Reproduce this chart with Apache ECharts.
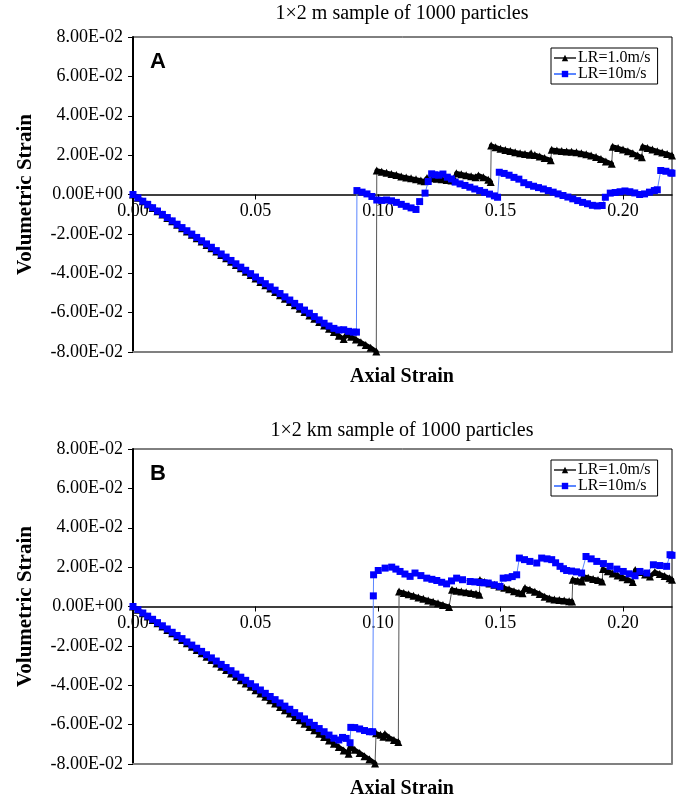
<!DOCTYPE html>
<html><head><meta charset="utf-8">
<script src="https://cdn.jsdelivr.net/npm/echarts@6/dist/echarts.min.js"></script>
<style>html,body{margin:0;padding:0;background:#fff}#c{width:681px;height:798px}</style>
</head><body><div id="c"></div><script>
// ---------- data (axial strain, volumetric strain) ----------
const seriesNames = ['LR=1.0m/s', 'LR=10m/s'];
const titles = ['1\u00d72 m sample of 1000 particles', '1\u00d72 km sample of 1000 particles'];
const panelLetters = ['A', 'B'];
const xTicks = [0, 0.05, 0.10, 0.15, 0.20];
const yTicks = [-0.08, -0.06, -0.04, -0.02, 0, 0.02, 0.04, 0.06, 0.08];

// Panel A, LR = 1.0 m/s
const aSlow = [[0,0],[0.002,-0.0017],[0.004,-0.0034],[0.006,-0.0051],[0.008,-0.0068],[0.010,-0.0085],[0.012,-0.0102],[0.014,-0.0119],[0.016,-0.0136],[0.018,-0.0154],[0.020,-0.0171],[0.022,-0.0188],[0.024,-0.0205],[0.026,-0.0222],[0.028,-0.0239],[0.030,-0.0256],[0.032,-0.0273],[0.034,-0.0290],[0.036,-0.0307],[0.038,-0.0324],[0.040,-0.0341],[0.042,-0.0358],[0.044,-0.0375],[0.046,-0.0392],[0.048,-0.0409],[0.050,-0.0427],[0.052,-0.0444],[0.054,-0.0461],[0.056,-0.0478],[0.058,-0.0495],[0.060,-0.0512],[0.062,-0.0529],[0.064,-0.0546],[0.066,-0.0563],[0.068,-0.0580],[0.070,-0.0597],[0.072,-0.0614],[0.074,-0.0631],[0.076,-0.0648],[0.078,-0.0665],[0.080,-0.0682],[0.082,-0.0699],[0.084,-0.0717],[0.086,-0.0734],[0.0872,-0.0710],[0.089,-0.0722],[0.091,-0.0736],[0.093,-0.0750],[0.095,-0.0764],[0.097,-0.0778],[0.0993,-0.0798],[0.0995,0.0122],[0.1015,0.0116],[0.1035,0.0110],[0.1055,0.0104],[0.1075,0.0099],[0.1095,0.0092],[0.1115,0.0086],[0.1135,0.0082],[0.1155,0.0077],[0.1175,0.0071],[0.1190,0.0067],[0.1200,0.0084],[0.1220,0.0082],[0.1240,0.0080],[0.1260,0.0077],[0.1280,0.0074],[0.1300,0.0071],[0.1316,0.0068],[0.1320,0.0108],[0.1340,0.0103],[0.1360,0.0098],[0.1380,0.0093],[0.1398,0.0088],[0.1410,0.0097],[0.1430,0.0087],[0.1450,0.0075],[0.1460,0.0064],[0.1462,0.0249],[0.1480,0.0240],[0.1500,0.0232],[0.1520,0.0226],[0.1540,0.0221],[0.1560,0.0215],[0.1580,0.0210],[0.1600,0.0206],[0.1620,0.0202],[0.1625,0.0210],[0.1640,0.0201],[0.1660,0.0193],[0.1680,0.0185],[0.1705,0.0174],[0.1709,0.0227],[0.1730,0.0224],[0.1750,0.0221],[0.1770,0.0219],[0.1790,0.0217],[0.1810,0.0214],[0.1830,0.0210],[0.1850,0.0205],[0.1870,0.0198],[0.1890,0.0190],[0.1910,0.0180],[0.1930,0.0168],[0.1954,0.0156],[0.1958,0.0243],[0.1980,0.0236],[0.2000,0.0228],[0.2020,0.0220],[0.2040,0.0210],[0.2060,0.0198],[0.2077,0.0189],[0.2080,0.0243],[0.2100,0.0236],[0.2120,0.0228],[0.2140,0.0220],[0.2160,0.0213],[0.2180,0.0206],[0.2200,0.0198]];

// Panel A, LR = 10 m/s
const aFast = [[0,0],[0.002,-0.0017],[0.004,-0.0034],[0.006,-0.0050],[0.008,-0.0067],[0.010,-0.0084],[0.012,-0.0101],[0.014,-0.0117],[0.016,-0.0134],[0.018,-0.0151],[0.020,-0.0168],[0.022,-0.0184],[0.024,-0.0201],[0.026,-0.0218],[0.028,-0.0235],[0.030,-0.0251],[0.032,-0.0268],[0.034,-0.0285],[0.036,-0.0302],[0.038,-0.0318],[0.040,-0.0335],[0.042,-0.0352],[0.044,-0.0369],[0.046,-0.0385],[0.048,-0.0402],[0.050,-0.0419],[0.052,-0.0436],[0.054,-0.0453],[0.056,-0.0469],[0.058,-0.0486],[0.060,-0.0503],[0.062,-0.0520],[0.064,-0.0536],[0.066,-0.0553],[0.068,-0.0570],[0.070,-0.0587],[0.072,-0.0603],[0.074,-0.0620],[0.076,-0.0637],[0.078,-0.0654],[0.080,-0.0668],[0.082,-0.0680],[0.084,-0.0688],[0.086,-0.0687],[0.088,-0.0695],[0.090,-0.0699],[0.0912,-0.0699],[0.0914,0.0020],[0.0935,0.0012],[0.0955,0.0003],[0.0975,-0.0010],[0.0995,-0.0028],[0.1015,-0.0030],[0.1035,-0.0028],[0.1055,-0.0032],[0.1075,-0.0040],[0.1095,-0.0050],[0.1115,-0.0060],[0.1135,-0.0068],[0.1155,-0.0076],[0.1170,-0.0036],[0.1192,0.0007],[0.1205,0.0066],[0.1219,0.0105],[0.1232,0.0100],[0.1248,0.0098],[0.1265,0.0104],[0.1283,0.0088],[0.1300,0.0079],[0.1315,0.0063],[0.1335,0.0054],[0.1355,0.0046],[0.1375,0.0037],[0.1395,0.0028],[0.1415,0.0020],[0.1435,0.0011],[0.1455,0.0002],[0.1475,-0.0007],[0.1488,-0.0014],[0.1495,0.0113],[0.1515,0.0107],[0.1535,0.0098],[0.1555,0.0087],[0.1575,0.0078],[0.1595,0.0060],[0.1615,0.0050],[0.1635,0.0042],[0.1655,0.0035],[0.1675,0.0028],[0.1695,0.0020],[0.1715,0.0012],[0.1735,0.0003],[0.1755,-0.0005],[0.1775,-0.0013],[0.1795,-0.0022],[0.1815,-0.0031],[0.1835,-0.0040],[0.1855,-0.0047],[0.1875,-0.0055],[0.1895,-0.0058],[0.1915,-0.0056],[0.1928,-0.0014],[0.1948,0.0007],[0.1968,0.0010],[0.1988,0.0014],[0.2008,0.0018],[0.2028,0.0014],[0.2048,0.0008],[0.2068,0.0000],[0.2088,0.0003],[0.2108,0.0012],[0.2128,0.0020],[0.2140,0.0024],[0.2154,0.0122],[0.2175,0.0118],[0.2195,0.0110],[0.2200,0.0108]];

// Panel B, LR = 1.0 m/s
const bSlow = [[0,0],[0.002,-0.0017],[0.004,-0.0034],[0.006,-0.0051],[0.008,-0.0068],[0.010,-0.0085],[0.012,-0.0102],[0.014,-0.0119],[0.016,-0.0136],[0.018,-0.0153],[0.020,-0.0170],[0.022,-0.0187],[0.024,-0.0204],[0.026,-0.0221],[0.028,-0.0238],[0.030,-0.0255],[0.032,-0.0272],[0.034,-0.0289],[0.036,-0.0306],[0.038,-0.0323],[0.040,-0.0340],[0.042,-0.0357],[0.044,-0.0374],[0.046,-0.0391],[0.048,-0.0408],[0.050,-0.0425],[0.052,-0.0442],[0.054,-0.0459],[0.056,-0.0476],[0.058,-0.0493],[0.060,-0.0510],[0.062,-0.0527],[0.064,-0.0544],[0.066,-0.0561],[0.068,-0.0578],[0.070,-0.0595],[0.072,-0.0612],[0.074,-0.0629],[0.076,-0.0646],[0.078,-0.0663],[0.080,-0.0680],[0.082,-0.0697],[0.084,-0.0714],[0.086,-0.0731],[0.0880,-0.0748],[0.0886,-0.0712],[0.0905,-0.0728],[0.0925,-0.0744],[0.0945,-0.0760],[0.0965,-0.0776],[0.0988,-0.0797],[0.0992,-0.0644],[0.1010,-0.0652],[0.1022,-0.0661],[0.1028,-0.0648],[0.1045,-0.0665],[0.1065,-0.0678],[0.1083,-0.0688],[0.1086,0.0076],[0.1105,0.0069],[0.1125,0.0062],[0.1145,0.0054],[0.1165,0.0046],[0.1185,0.0039],[0.1205,0.0031],[0.1225,0.0024],[0.1245,0.0016],[0.1265,0.0008],[0.1290,-0.0002],[0.1302,0.0085],[0.1320,0.0080],[0.1340,0.0076],[0.1360,0.0073],[0.1380,0.0069],[0.1400,0.0065],[0.1414,0.0060],[0.1416,0.0134],[0.1435,0.0125],[0.1455,0.0117],[0.1475,0.0110],[0.1495,0.0102],[0.1515,0.0095],[0.1535,0.0087],[0.1555,0.0078],[0.1575,0.0070],[0.1590,0.0067],[0.1600,0.0094],[0.1620,0.0085],[0.1640,0.0075],[0.1660,0.0063],[0.1680,0.0050],[0.1700,0.0041],[0.1720,0.0036],[0.1740,0.0033],[0.1760,0.0030],[0.1780,0.0027],[0.1792,0.0025],[0.1795,0.0136],[0.1815,0.0131],[0.1833,0.0127],[0.1838,0.0153],[0.1858,0.0146],[0.1878,0.0140],[0.1898,0.0135],[0.1915,0.0127],[0.1918,0.0190],[0.1938,0.0179],[0.1958,0.0168],[0.1978,0.0158],[0.1998,0.0148],[0.2018,0.0138],[0.2040,0.0124],[0.2050,0.0185],[0.2070,0.0175],[0.2090,0.0162],[0.2110,0.0152],[0.2130,0.0175],[0.2150,0.0165],[0.2170,0.0155],[0.2190,0.0143],[0.2200,0.0136]];

// Panel B, LR = 10 m/s
const bFast = [[0,0],[0.002,-0.0016],[0.004,-0.0033],[0.006,-0.0049],[0.008,-0.0065],[0.010,-0.0082],[0.012,-0.0098],[0.014,-0.0114],[0.016,-0.0131],[0.018,-0.0147],[0.020,-0.0163],[0.022,-0.0180],[0.024,-0.0196],[0.026,-0.0212],[0.028,-0.0228],[0.030,-0.0245],[0.032,-0.0261],[0.034,-0.0277],[0.036,-0.0294],[0.038,-0.0310],[0.040,-0.0326],[0.042,-0.0343],[0.044,-0.0359],[0.046,-0.0375],[0.048,-0.0392],[0.050,-0.0408],[0.052,-0.0424],[0.054,-0.0441],[0.056,-0.0457],[0.058,-0.0473],[0.060,-0.0490],[0.062,-0.0506],[0.064,-0.0522],[0.066,-0.0539],[0.068,-0.0555],[0.070,-0.0571],[0.072,-0.0588],[0.074,-0.0604],[0.076,-0.0620],[0.078,-0.0636],[0.080,-0.0653],[0.082,-0.0669],[0.084,-0.0678],[0.0855,-0.0665],[0.0870,-0.0670],[0.0886,-0.0692],[0.0889,-0.0614],[0.0905,-0.0615],[0.0925,-0.0622],[0.0945,-0.0630],[0.0965,-0.0636],[0.0978,-0.0636],[0.0981,0.0054],[0.0982,0.0161],[0.1001,0.0183],[0.1029,0.0195],[0.1056,0.0200],[0.1073,0.0190],[0.1090,0.0178],[0.1110,0.0165],[0.1131,0.0153],[0.1151,0.0170],[0.1175,0.0157],[0.1199,0.0144],[0.1220,0.0138],[0.1240,0.0132],[0.1260,0.0123],[0.1280,0.0115],[0.1300,0.0130],[0.1321,0.0144],[0.1345,0.0136],[0.1376,0.0127],[0.1395,0.0125],[0.1416,0.0122],[0.1433,0.0120],[0.1450,0.0119],[0.1475,0.0110],[0.1498,0.0102],[0.1511,0.0144],[0.1530,0.0146],[0.1548,0.0152],[0.1566,0.0161],[0.1577,0.0246],[0.1598,0.0238],[0.1620,0.0229],[0.1648,0.0221],[0.1668,0.0246],[0.1690,0.0242],[0.1709,0.0238],[0.1725,0.0222],[0.1743,0.0204],[0.1757,0.0192],[0.1770,0.0183],[0.1790,0.0180],[0.1810,0.0176],[0.1831,0.0170],[0.1849,0.0254],[0.1870,0.0242],[0.1893,0.0229],[0.1920,0.0218],[0.1947,0.0204],[0.1975,0.0190],[0.2001,0.0178],[0.2025,0.0166],[0.2049,0.0156],[0.2069,0.0178],[0.2097,0.0170],[0.2124,0.0212],[0.2150,0.0208],[0.2178,0.0204],[0.2192,0.0263],[0.2200,0.0260]];

// ---------- chart ----------
const SERIF = '"Liberation Serif", "Times New Roman", serif';
function sci(v) {
  if (Math.abs(v) < 1e-12) return '0.00E+00';
  const e = Math.floor(Math.log10(Math.abs(v)) + 1e-9);
  const m = v / Math.pow(10, e);
  return m.toFixed(2) + 'E' + (e < 0 ? '-' : '+') + String(Math.abs(e)).padStart(2, '0');
}
// break the thick stroke where the curve jumps (the jump itself is drawn thin)
function breakAtJumps(d) {
  const out = [];
  d.forEach((p, k) => {
    if (k > 0 && Math.abs(p[1] - d[k - 1][1]) > 0.004) out.push('-');
    out.push(p);
  });
  return out;
}
const panels = [
  { grid: { left: 133, top: 37, width: 539, height: 315 }, slow: aSlow, fast: aFast, titleY: 14 },
  { grid: { left: 133, top: 449, width: 539, height: 315 }, slow: bSlow, fast: bFast, titleY: 431 }
];
const grids = [], xAxes = [], yAxes = [], series = [], legends = [], graphics = [];
panels.forEach((p, i) => {
  grids.push(Object.assign({ show: true, borderColor: '#000', borderWidth: 1, backgroundColor: '#fff' }, p.grid));
  xAxes.push({
    type: 'value', gridIndex: i, min: xTicks[0], max: 0.22, interval: 0.05, position: 'bottom',
    offset: -p.grid.height / 2,
    axisLine: { onZero: false, lineStyle: { color: '#000', width: 1.5 } },
    axisTick: { show: true, length: 5, lineStyle: { color: '#000' } },
    axisLabel: { formatter: v => v.toFixed(2), showMaxLabel: false, fontFamily: SERIF, fontSize: 18, color: '#000', margin: 8 },
    splitLine: { show: false }
  });
  xAxes.push({
    type: 'value', gridIndex: i, min: 0, max: 0.22, position: 'bottom',
    axisLine: { show: true, onZero: false, lineStyle: { color: '#808080', width: 2 } },
    axisTick: { show: false }, axisLabel: { show: false }, splitLine: { show: false }
  });
  yAxes.push({
    type: 'value', gridIndex: i, min: yTicks[0], max: yTicks[yTicks.length - 1], interval: 0.02,
    axisLine: { show: true, onZero: false, lineStyle: { color: '#000', width: 2 } },
    axisTick: { show: true, length: 5, lineStyle: { color: '#000' } },
    axisLabel: { formatter: sci, fontFamily: SERIF, fontSize: 18, color: '#000', margin: 10 },
    splitLine: { show: false }
  });
  series.push({
    name: seriesNames[0], type: 'line', xAxisIndex: i * 2, yAxisIndex: i, data: p.slow,
    symbol: 'triangle', symbolSize: 8, showSymbol: true, animation: false, z: 2,
    lineStyle: { color: '#555', width: 1 }, itemStyle: { color: '#000' }
  });
  series.push({
    name: seriesNames[0] + ' band', type: 'line', xAxisIndex: i * 2, yAxisIndex: i, data: breakAtJumps(p.slow),
    showSymbol: false, symbol: 'none', animation: false, z: 2, connectNulls: false, silent: true,
    lineStyle: { color: '#000', width: 4.5, join: 'round', cap: 'round' }
  });
  series.push({
    name: seriesNames[1], type: 'line', xAxisIndex: i * 2, yAxisIndex: i, data: p.fast,
    symbol: 'rect', symbolSize: 7, showSymbol: true, animation: false, z: 3,
    lineStyle: { color: '#5b86ff', width: 1 }, itemStyle: { color: '#0000ff' }
  });
  legends.push({
    data: seriesNames, orient: 'vertical', left: 551, top: p.grid.top + 11,
    backgroundColor: '#fff', borderColor: '#000', borderWidth: 1, padding: [2, 7, 2, 2],
    itemGap: 0, itemWidth: 22, itemHeight: 8, selectedMode: false,
    textStyle: { fontFamily: SERIF, fontSize: 16, color: '#000', padding: [0, 0, 0, -3] }
  });
  const top = p.grid.top, h = p.grid.height;
  graphics.push({ type: 'text', x: 402, y: p.titleY, style: { text: titles[i], font: '20px ' + SERIF, fill: '#000', textAlign: 'center', textVerticalAlign: 'middle', align: 'center', verticalAlign: 'middle' } });
  graphics.push({ type: 'text', x: 402, y: top + h + 25, style: { text: 'Axial Strain', font: 'bold 20px ' + SERIF, fill: '#000', textAlign: 'center', textVerticalAlign: 'middle', align: 'center', verticalAlign: 'middle' } });
  graphics.push({ type: 'text', x: 26, y: top + h / 2, rotation: Math.PI / 2, style: { text: 'Volumetric Strain', font: 'bold 21px ' + SERIF, fill: '#000', textAlign: 'center', textVerticalAlign: 'middle', align: 'center', verticalAlign: 'middle' } });
  graphics.push({ type: 'text', x: 158, y: top + 25, style: { text: panelLetters[i], font: 'bold 22px "Liberation Sans", Arial, sans-serif', fill: '#000', textAlign: 'center', textVerticalAlign: 'middle', align: 'center', verticalAlign: 'middle' } });
});
const chart = echarts.init(document.getElementById('c'), null, { renderer: 'canvas' });
chart.setOption({
  animation: false, backgroundColor: '#fff',
  grid: grids, xAxis: xAxes, yAxis: yAxes, series: series, legend: legends, graphic: graphics
});
</script></body></html>
